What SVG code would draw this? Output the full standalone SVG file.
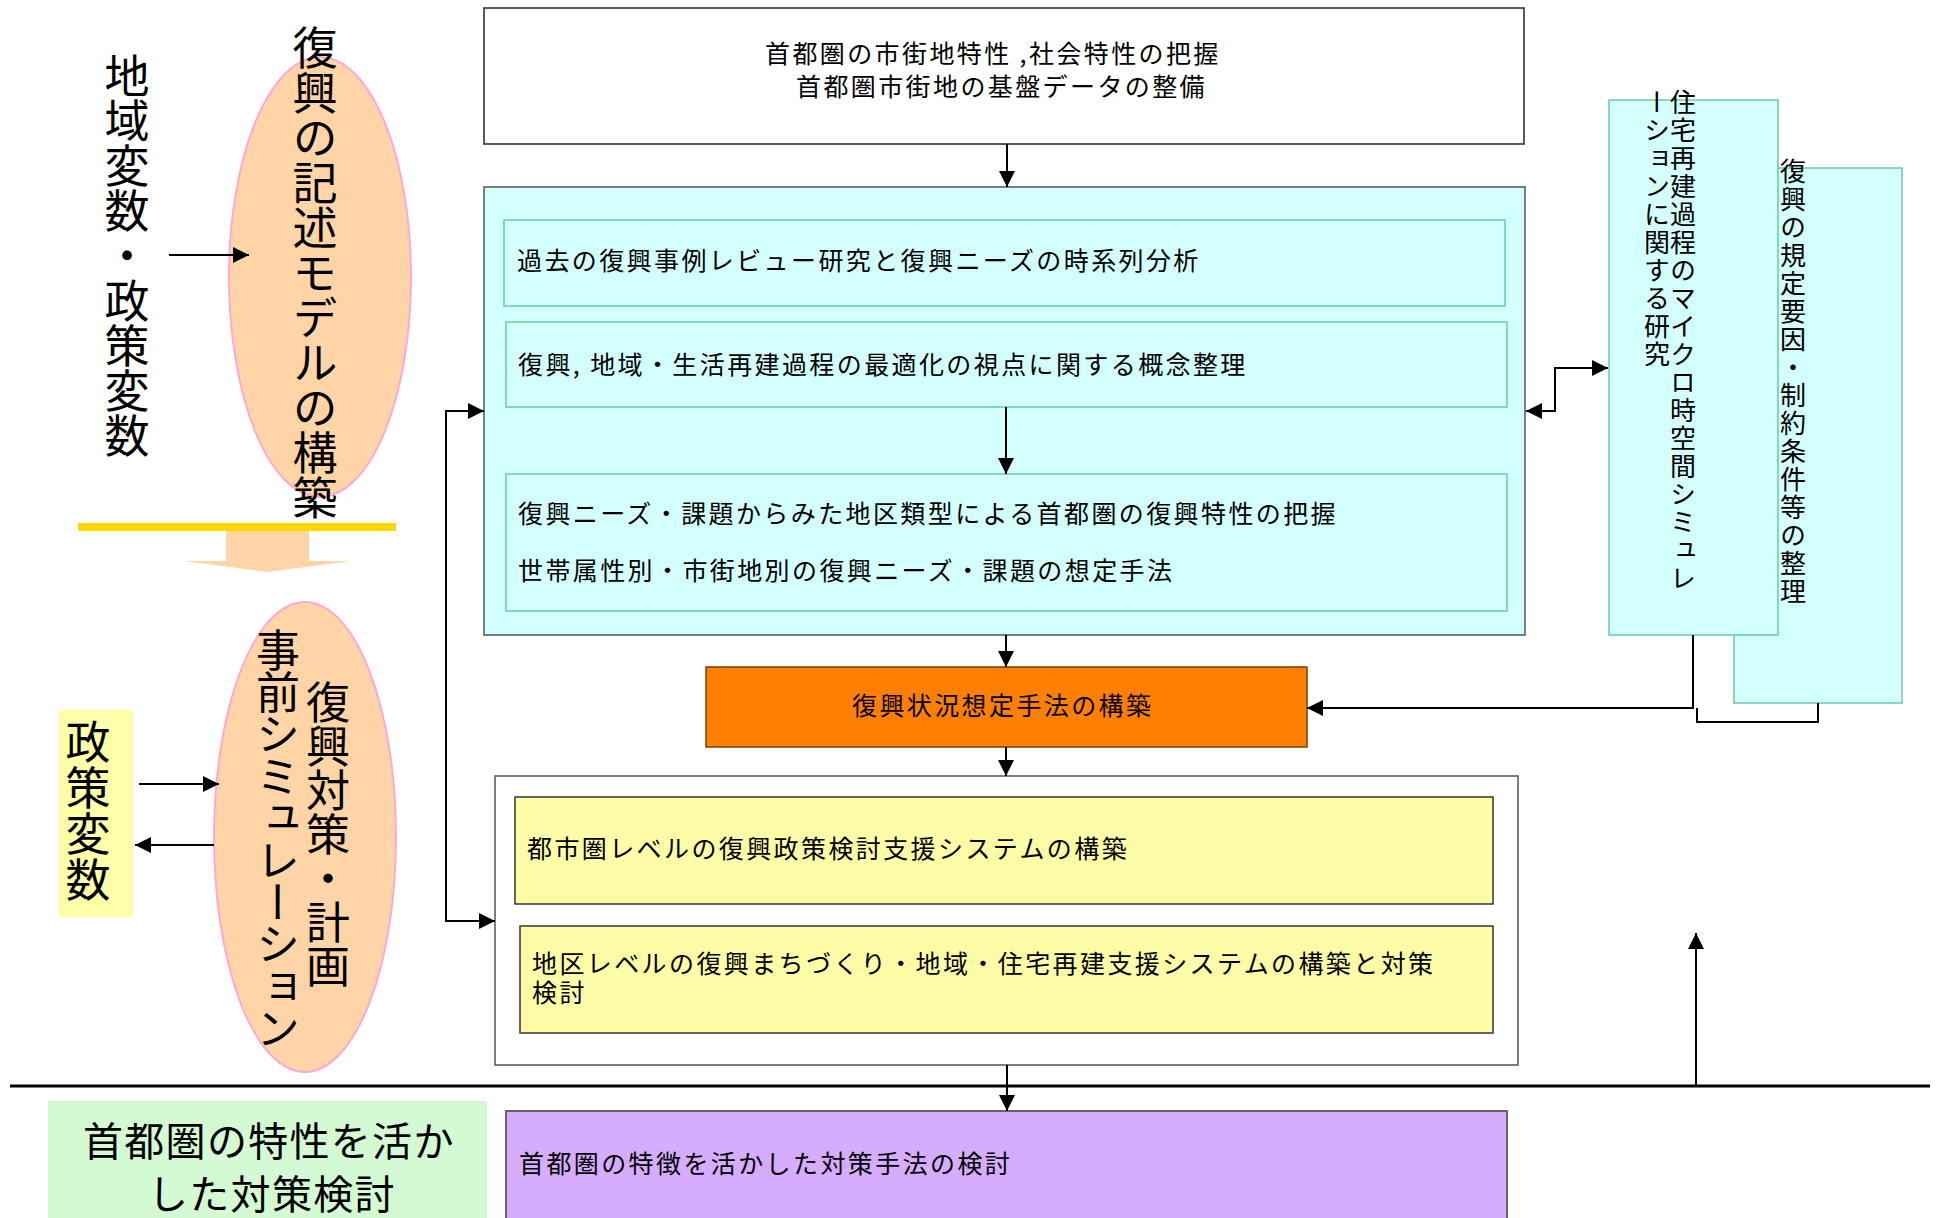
<svg xmlns="http://www.w3.org/2000/svg" width="1937" height="1218" viewBox="0 0 1937 1218">
<defs>
<style>
text{font-family:"Noto Sans CJK JP","Noto Sans CJK SC",sans-serif;fill:#000}
.h{font-size:25px;letter-spacing:2.4px;dominant-baseline:central}
.v{writing-mode:vertical-rl}
.big{font-size:45px}
.vr{font-size:26px;letter-spacing:2px}
.cy{fill:#D4FFFF;stroke:#6CC9A4;stroke-width:1.5}
.cyb{fill:#D4FFFF;stroke:#555;stroke-width:1.5}
.yb{fill:#FFFCA8;stroke:#333;stroke-width:1.5}
.el{fill:#FFD5A8;stroke:#FFA8D8;stroke-width:2}
.cn{fill:none;stroke:#000;stroke-width:2}
</style>
<marker id="ah" viewBox="0 0 16 16" refX="16" refY="8" markerWidth="16" markerHeight="16" markerUnits="userSpaceOnUse" orient="auto-start-reverse">
<path d="M0,0 L16,8 L0,16 z" fill="#000"/>
</marker>
</defs>

<g id="n-top">
<rect x="484" y="8" width="1040" height="136" fill="#fff" stroke="#222" stroke-width="1.5"/>
<text class="h"><tspan x="765" y="52">首都圏の市街地特性 ,社会特性の把握</tspan><tspan x="796" y="85">首都圏市街地の基盤データの整備</tspan></text>
</g>

<g id="n-cyan">
<rect class="cyb" x="484" y="187" width="1041" height="448"/>
</g>
<g id="n-past">
<rect class="cy" x="504" y="220" width="1001" height="86"/>
<text class="h" x="517" y="259">過去の復興事例レビュー研究と復興ニーズの時系列分析</text>
</g>
<g id="n-concept">
<rect class="cy" x="506" y="322" width="1001" height="85"/>
<text class="h" x="518" y="363">復興, 地域・生活再建過程の最適化の視点に関する概念整理</text>
</g>
<g id="n-needs">
<rect class="cy" x="506" y="474" width="1001" height="137"/>
<text class="h" x="518" y="512">復興ニーズ・課題からみた地区類型による首都圏の復興特性の把握</text>
<text class="h" x="518" y="569">世帯属性別・市街地別の復興ニーズ・課題の想定手法</text>
</g>

<g id="n-orange">
<rect x="706" y="667" width="601" height="80" fill="#FF8000" stroke="#7A3F00" stroke-width="1.5"/>
<text class="h" x="852" y="704">復興状況想定手法の構築</text>
</g>

<g id="n-system">
<rect x="495" y="776" width="1023" height="289" fill="#fff" stroke="#555" stroke-width="1.5"/>
</g>
<g id="n-city">
<rect class="yb" x="515" y="797" width="978" height="107"/>
<text class="h" x="527" y="847">都市圏レベルの復興政策検討支援システムの構築</text>
</g>
<g id="n-district">
<rect class="yb" x="520" y="926" width="973" height="107"/>
<text class="h"><tspan x="532" y="962">地区レベルの復興まちづくり・地域・住宅再建支援システムの構築と対策</tspan><tspan x="532" y="991">検討</tspan></text>
</g>

<g id="n-purple">
<rect x="506" y="1111" width="1001" height="110" fill="#D6ACFF" stroke="#666" stroke-width="2"/>
<text class="h" x="519" y="1162">首都圏の特徴を活かした対策手法の検討</text>
</g>

<g id="n-green">
<rect x="48" y="1101" width="439" height="120" fill="#D4FAD4"/>
<text style="font-size:40px;letter-spacing:1.3px;dominant-baseline:central"><tspan x="83" y="1139">首都圏の特性を活か</tspan><tspan x="148" y="1192">した対策検討</tspan></text>
</g>

<g id="n-factors">
<rect class="cy" x="1734" y="168" width="168" height="535"/>
<text class="v vr" x="1793" y="158">復興の規定要因・制約条件等の整理</text>
</g>
<g id="n-micro">
<rect class="cy" x="1609" y="100" width="169" height="535"/>
<text class="v vr"><tspan x="1683" y="89">住宅再建過程のマイクロ時空間シミュレ</tspan><tspan x="1657" y="89">ーションに関する研究</tspan></text>
</g>

<g id="n-model">
<ellipse class="el" cx="320" cy="277" rx="91" ry="220"/>
<text class="v big" x="315" y="25">復興の記述モデルの構築</text>
</g>

<g id="n-vars">
<text class="v big" x="127" y="53">地域変数・政策変数</text>
</g>

<g id="n-bar">
<rect x="78" y="523" width="318" height="8" fill="#FFD700"/>
<polygon points="226,531 309,531 309,561 351,561 268,572 185,561 226,561" fill="#FFD5A8"/>
</g>

<g id="n-sim">
<ellipse class="el" cx="305" cy="837" rx="91" ry="235"/>
<text class="v" style="font-size:44px"><tspan x="328" y="680">復興対策・計画</tspan><tspan x="278" y="628" style="letter-spacing:-2px">事前シミュレーション</tspan></text>
</g>

<g id="n-policy">
<rect x="59" y="710" width="74" height="207" fill="#FFFFAA"/>
<text class="v big" x="88" y="719" style="letter-spacing:1px">政策変数</text>
</g>

<g id="connectors">
<path class="cn" d="M1007,144 V187" marker-end="url(#ah)"/>
<path class="cn" d="M1006,407 V474" marker-end="url(#ah)"/>
<path class="cn" d="M1006,635 V667" marker-end="url(#ah)"/>
<path class="cn" d="M1006,747 V776" marker-end="url(#ah)"/>
<path class="cn" d="M1007,1065 V1111" stroke-width="1.5" marker-end="url(#ah)"/>
<path class="cn" d="M484,411 H446 V921 H495" marker-start="url(#ah)" marker-end="url(#ah)"/>
<path class="cn" d="M1526,411 H1555 V368 H1608" marker-start="url(#ah)" marker-end="url(#ah)"/>
<path class="cn" d="M1693,635 V708 H1307" marker-end="url(#ah)"/>
<path class="cn" d="M1818,703 V722 H1697 V708"/>
<path class="cn" d="M1696,1086 V933" marker-end="url(#ah)"/>
<path class="cn" d="M169,255 H249" marker-end="url(#ah)"/>
<path class="cn" d="M139,784 H219" marker-end="url(#ah)"/>
<path class="cn" d="M214,845 H135" marker-end="url(#ah)"/>
<path d="M10,1086 H1930" stroke="#000" stroke-width="3"/>
</g>
</svg>
